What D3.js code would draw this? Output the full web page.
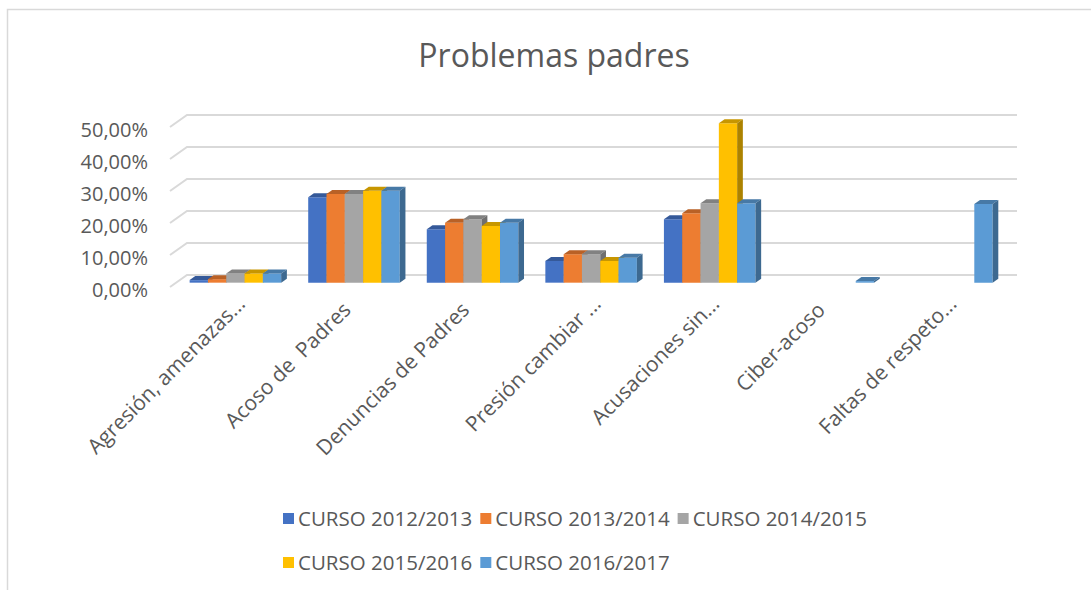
<!DOCTYPE html>
<html>
<head>
<meta charset="utf-8">
<script src="https://cdn.jsdelivr.net/npm/d3@7"></script>
<style>
  body { margin: 0; background: #fff; }
  text { font-family: "Open Sans", sans-serif; fill: #595959; }
</style>
</head>
<body>
<svg width="1091" height="590"></svg>
<script>
// categorias y series (porcentajes)
const categories = ["Agresión, amenazas...", "Acoso de  Padres", "Denuncias de Padres",
  "Presión cambiar ...", "Acusaciones sin...", "Ciber-acoso", "Faltas de respeto..."];
const seriesNames = ["CURSO 2012/2013", "CURSO 2013/2014", "CURSO 2014/2015",
  "CURSO 2015/2016", "CURSO 2016/2017"];
const curso2012 = [0.8, 26.7, 16.7, 6.8, 19.8, null, null];
const curso2013 = [1.1, 27.7, 18.7, 8.9, 21.7, null, null];
const curso2014 = [2.9, 27.7, 19.8, 8.9, 24.8, null, null];
const curso2015 = [2.9, 28.7, 17.7, 6.8, 49.8, null, null];
const curso2016 = [2.9, 28.7, 18.7, 7.8, 24.8, 0.5, 24.6];
const yTicks = [0, 10, 20, 30, 40, 50];
const colors = ["#4472C4", "#ED7D31", "#A5A5A5", "#FFC000", "#5B9BD5"];

const values = [curso2012, curso2013, curso2014, curso2015, curso2016];

const svg = d3.select('svg');

// chart border
svg.append('rect')
  .attr('x', 7.5).attr('y', 9.5)
  .attr('width', 1200).attr('height', 700)
  .attr('fill', 'none').attr('stroke', '#D9D9D9').attr('stroke-width', 1.5);

svg.append('text')
  .attr('x', 554).attr('y', 67)
  .attr('text-anchor', 'middle')
  .style('font-size', '32px')
  .text('Problemas padres');

// 3d-ish projection: front plane + depth vector
const depth = [17, -12];
const x0 = d3.scaleBand().domain(categories).range([170, 1000])
  .paddingInner(0.228).paddingOuter(0.114);
const x1 = d3.scaleBand().domain(seriesNames).range([0, x0.bandwidth()]);
const y = d3.scaleLinear().domain([0, 50]).range([287, 127]);

const P = (x, v, z) => [x + z * depth[0], y(v) + z * depth[1]];
const line = d3.line();

// gridlines
const grid = svg.append('g');
yTicks.forEach(t => {
  grid.append('path')
    .attr('d', line([P(170, t, 0), P(170, t, 1), P(1000, t, 1)]))
    .attr('fill', 'none').attr('stroke', '#D9D9D9').attr('stroke-width', 2);
});

// y labels
svg.append('g').selectAll('text')
  .data(yTicks).enter().append('text')
  .attr('x', 148)
  .attr('y', d => y(d) + 3)
  .attr('dy', '0.35em')
  .attr('text-anchor', 'end')
  .style('font-size', '20px')
  .text(d => d3.format('.2f')(d).replace('.', ',') + '%');

// bars
const zf = 0.36, zb = 0.695;
const bars = svg.append('g');
categories.forEach((c, ci) => {
  seriesNames.forEach((s, si) => {
    const v = values[si][ci];
    if (v == null) return;
    const xa = x0(c) + x1(s), xb = xa + x1.bandwidth();
    const base = d3.color(colors[si]);
    const g = bars.append('g');
    g.append('path')
      .attr('d', line([P(xa, 0, zf), P(xb, 0, zf), P(xb, v, zf), P(xa, v, zf)]) + 'Z')
      .attr('fill', base);
    g.append('path')
      .attr('d', line([P(xa, v, zf), P(xb, v, zf), P(xb, v, zb), P(xa, v, zb)]) + 'Z')
      .attr('fill', base.darker(0.7));
    g.append('path')
      .attr('d', line([P(xb, 0, zf), P(xb, 0, zb), P(xb, v, zb), P(xb, v, zf)]) + 'Z')
      .attr('fill', base.darker(1.1));
  });
});

// category labels (truncated ones sit a bit further right, like excel does)
svg.append('g').selectAll('text')
  .data(categories).enter().append('text')
  .attr('transform', d => {
    const cx = x0(d) + x0.bandwidth() / 2;
    return d.endsWith('...')
      ? `translate(${cx + 12},300) rotate(-45)`
      : `translate(${cx - 1},306) rotate(-45)`;
  })
  .attr('text-anchor', 'end')
  .attr('dy', '0.35em')
  .style('font-size', '21px')
  .style('white-space', 'pre')
  .text(d => d);

// legend
const legend = svg.append('g').style('font-size', '20.5px');
const rows = [[0, 1, 2], [3, 4]];
const rowY = [519, 563];
const startX = 283;
rows.forEach((r, ri) => {
  let cx = startX;
  r.forEach(si => {
    legend.append('rect')
      .attr('x', cx).attr('y', rowY[ri] - 6)
      .attr('width', 11).attr('height', 11)
      .attr('fill', colors[si]);
    const t = legend.append('text')
      .attr('x', cx + 15).attr('y', rowY[ri])
      .attr('dy', '0.35em')
      .text(seriesNames[si]);
    cx += 15 + t.node().getComputedTextLength() + 8;
  });
});
</script>
</body>
</html>
